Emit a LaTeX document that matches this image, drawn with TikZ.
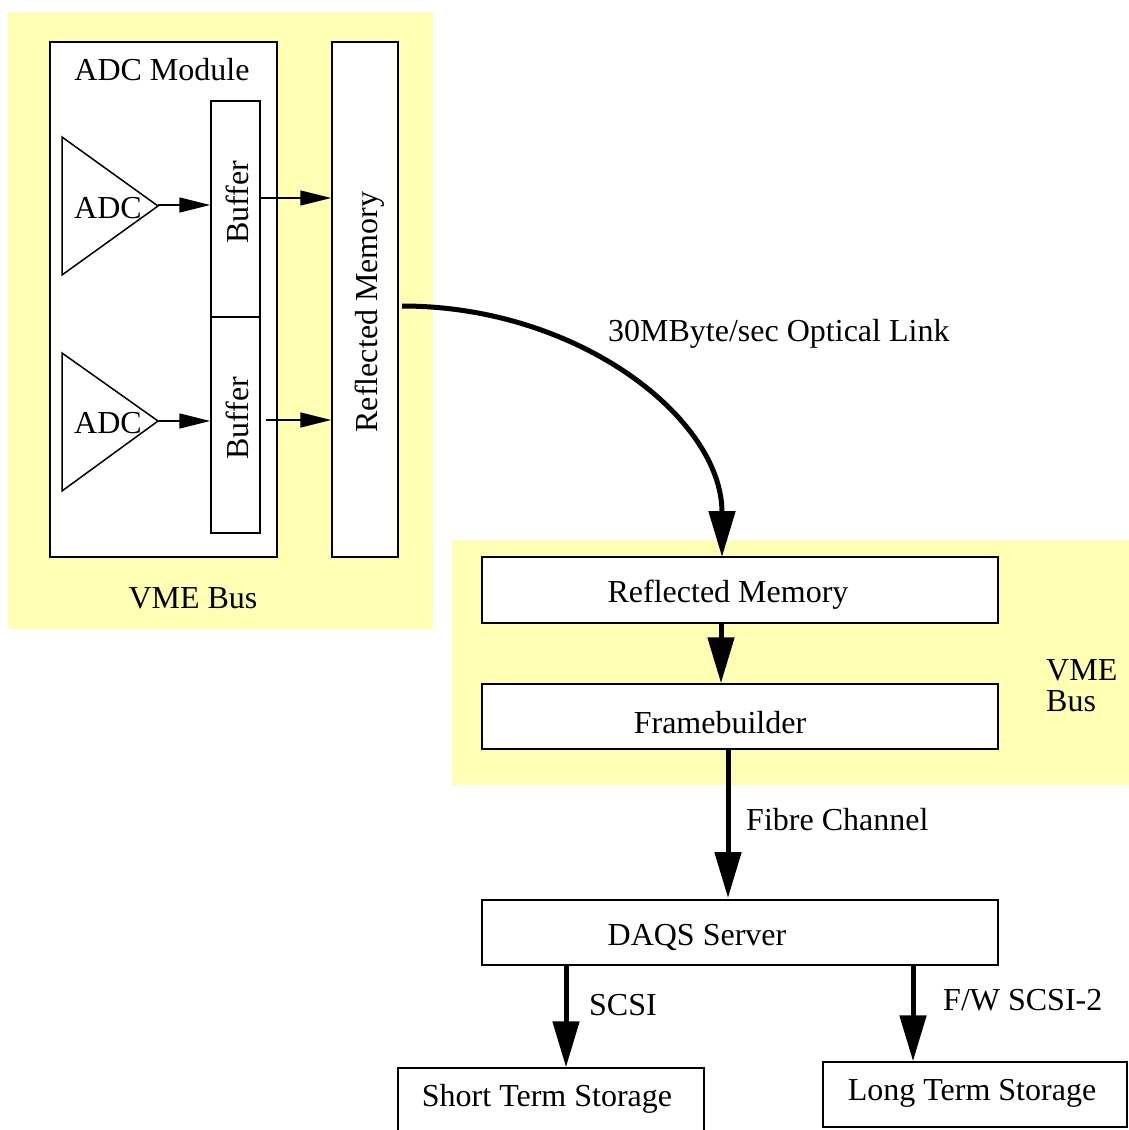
\documentclass[tikz,border=0pt]{standalone}
\usepackage{fontspec}
\setmainfont{Liberation Serif}
\usetikzlibrary{arrows.meta}
\definecolor{vmeyellow}{RGB}{255,255,180}
\tikzset{
  box/.style={draw=black, line width=1.5pt, fill=white, inner sep=0pt},
  lbl/.style={font=\fontsize{32}{35}\selectfont, inner sep=0pt},
  thin arrow/.style={line width=1.5pt, -{Triangle[length=31pt,width=15pt]}},
  thick arrow/.style={line width=5pt, -{Triangle[length=46pt,width=26pt]}},
  bus/.style={fill=vmeyellow, draw=none},
}
\begin{document}
\begin{tikzpicture}[x=1pt,y=-1pt]
\useasboundingbox (0,0) rectangle (1129,1130);
\fill[white] (0,0) rectangle (1129,1130);
% backgrounds
\fill[bus] (8,12) rectangle (433,629);
\fill[bus] (452,540) rectangle (1129,785);
% left part
\node[box, minimum width=227pt, minimum height=515pt] (mod) at (163.5,299.5) {};
\node[lbl] (modlbl) at (162,70) {ADC Module};
\node[box, minimum width=66pt, minimum height=515pt] (rmv) at (365,299.5) {};
\node[lbl, rotate=90] (rmvlbl) at (370,312) {Reflected Memory};
\node[box, minimum width=49pt, minimum height=216pt] (buf1) at (235.5,209) {};
\node[box, minimum width=49pt, minimum height=216pt] (buf2) at (235.5,425) {};
\node[lbl, rotate=90] (buf1lbl) at (237,202) {Buffer};
\node[lbl, rotate=90] (buf2lbl) at (237,418) {Buffer};
\draw[line width=1.5pt] (62,137) -- (62,275) -- (158,206) -- cycle;
\draw[line width=1.5pt] (62,353) -- (62,491) -- (158,421) -- cycle;
\coordinate (adc1out) at (158,205);
\coordinate (adc2out) at (158,421);
\node[lbl] (adc1) at (108,208) {ADC};
\node[lbl] (adc2) at (108,423) {ADC};
\draw[thin arrow] (adc1out) -- (buf1.west |- adc1out);
\draw[thin arrow] (adc2out) -- (buf2.west |- adc2out);
\coordinate (b1o) at (260,198);
\coordinate (b2o) at (266,420);
\draw[thin arrow] (b1o) -- (rmv.west |- b1o);
\draw[thin arrow] (b2o) -- (rmv.west |- b2o);
\node[lbl] (vme1) at (193,598) {VME Bus};
% right part
\node[box, minimum width=516pt, minimum height=66pt] (rm) at (740,590) {};
\node[lbl] (rmlbl) at (728,595) {Reflected Memory};
\node[box, minimum width=516pt, minimum height=65pt] (fb) at (740,716.5) {};
\node[lbl] (fblbl) at (720,723) {Framebuilder};
\node[lbl, align=left, anchor=west] (vme2) at (1046,686) {VME\\[-4pt]Bus};
\coordinate (cstart) at (402,306);
\coordinate (cend) at (722,557);
\draw[thick arrow] (cstart) .. controls (579,306) and (722,419) .. (cend);
\node[lbl, anchor=west] (optlbl) at (608,334) {30MByte/sec Optical Link};
\coordinate (rmout) at (721,623);
\draw[thick arrow] (rmout) -- (rmout |- fb.north);
\node[box, minimum width=516pt, minimum height=65pt] (daqs) at (740,932.5) {};
\node[lbl] (daqslbl) at (697,937) {DAQS Server};
\coordinate (fbout) at (728,749);
\draw[thick arrow] (fbout) -- (728,898);
\node[lbl, anchor=west] (fclbl) at (746,820) {Fibre Channel};
\node[box, minimum width=306pt, minimum height=70pt] (sts) at (551,1103) {};
\node[lbl] (stslbl) at (547,1099) {Short Term Storage};
\node[box, minimum width=304pt, minimum height=65pt] (lts) at (975,1094.5) {};
\node[lbl] (ltslbl) at (972,1093) {Long Term Storage};
\coordinate (d1) at (566,965);
\coordinate (d2) at (913,965);
\draw[thick arrow] (d1) -- (d1 |- sts.north);
\draw[thick arrow] (d2) -- (d2 |- lts.north);
\node[lbl, anchor=west] (scsilbl) at (589,1005) {SCSI};
\node[lbl, anchor=west] (fwlbl) at (943,1000) {F/W SCSI-2};
\end{tikzpicture}
\end{document}
